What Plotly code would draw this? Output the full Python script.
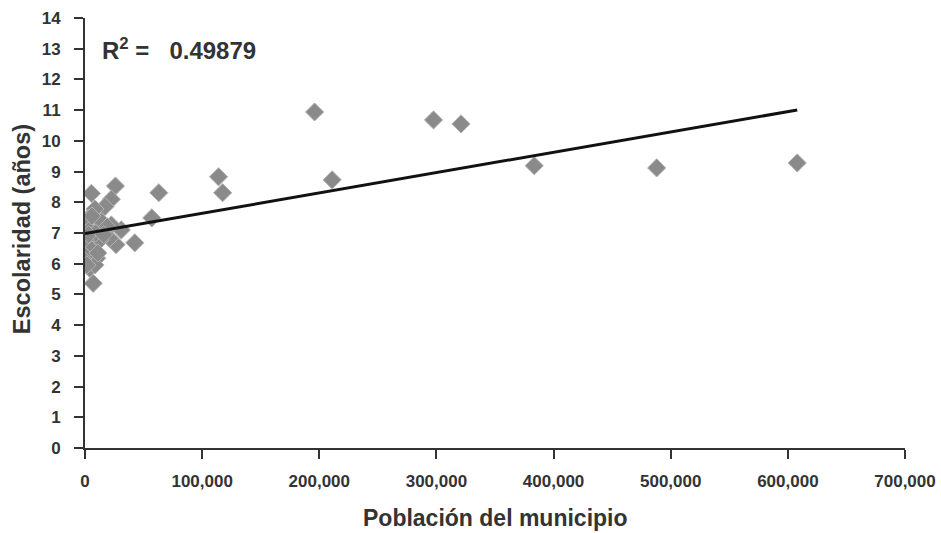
import plotly.graph_objects as go

# Data
poblacion = [
    196000, 297500, 321000, 383500, 488000, 608000,
    114000, 117500, 211000, 63000, 57000, 42500,
    26000, 26500, 31000, 5500, 22500, 17000, 8500, 2800,
    14000, 22500, 4000, 21000, 13000, 1400, 5700, 500,
    10000, 300, 4000, 8500, 7000, 1500, 11000, 9000,
    3000, 6000, 19000, 16000,
]
escolaridad = [
    10.94, 10.68, 10.55, 9.19, 9.12, 9.28,
    8.83, 8.31, 8.73, 8.31, 7.49, 6.68,
    8.53, 6.62, 7.10, 8.29, 8.10, 7.86, 7.78, 7.48,
    7.37, 7.26, 7.10, 6.83, 6.78, 6.78, 6.45, 6.23,
    6.18, 6.07, 5.85, 5.96, 5.36, 5.96, 6.35, 7.00,
    6.95, 7.55, 7.20, 6.95,
]
trend_intercept = 6.98
trend_slope = 6.62e-6
r2_text = "0.49879"

x_ticks = list(range(0, 700001, 100000))
y_ticks = list(range(0, 15))

x_line = [0, max(poblacion)]
y_line = [trend_intercept + trend_slope * v for v in x_line]

fig = go.Figure()
fig.add_trace(go.Scatter(
    x=poblacion, y=escolaridad, mode="markers",
    marker=dict(symbol="diamond", size=14, color="#8a8a8a",
                line=dict(color="#b4b4b4", width=1)),
    showlegend=False, hoverinfo="skip"))
fig.add_trace(go.Scatter(
    x=x_line, y=y_line, mode="lines",
    line=dict(color="#111111", width=3),
    showlegend=False, hoverinfo="skip"))

font_family = "Liberation Sans, Arial, sans-serif"
tick_font = dict(size=17, family=font_family, color="#333333", weight="bold")
fig.update_layout(
    width=941, height=533,
    margin=dict(l=85, r=36, t=18, b=85, autoexpand=False),
    paper_bgcolor="white", plot_bgcolor="white",
    font=dict(family=font_family, color="#333333"),
    xaxis=dict(
        range=[0, 700000], tickvals=x_ticks, tickformat=",",
        showgrid=False, zeroline=False, showline=True, automargin=False,
        linecolor="#333333", linewidth=2,
        ticks="outside", ticklen=9, tickwidth=2, tickcolor="#333333",
        ticklabelstandoff=8, tickfont=tick_font,
    ),
    yaxis=dict(
        range=[0, 14], tickvals=y_ticks,
        showgrid=False, zeroline=False, showline=True, automargin=False,
        linecolor="#333333", linewidth=2,
        ticks="outside", ticklen=9, tickwidth=2, tickcolor="#333333",
        ticklabelstandoff=10, tickfont=tick_font,
    ),
    annotations=[
        dict(x=0.018, y=13.0, xref="paper", yref="y", xanchor="left", yanchor="middle",
             text="<b>R<sup>2</sup> =&nbsp;&nbsp;&nbsp;" + r2_text + "</b>",
             showarrow=False, font=dict(size=24, color="#333333", family=font_family)),
        dict(x=0.5, y=0, xref="paper", yref="paper", xanchor="center", yanchor="middle",
             yshift=-70, text="<b>Población del municipio</b>", showarrow=False,
             font=dict(size=23, color="#333333", family=font_family)),
        dict(x=0, y=0.509, xref="paper", yref="paper", xanchor="center", yanchor="middle",
             xshift=-63, textangle=-90, text="<b>Escolaridad (años)</b>", showarrow=False,
             font=dict(size=23.5, color="#333333", family=font_family)),
    ],
)

fig.write_html("out.html")
